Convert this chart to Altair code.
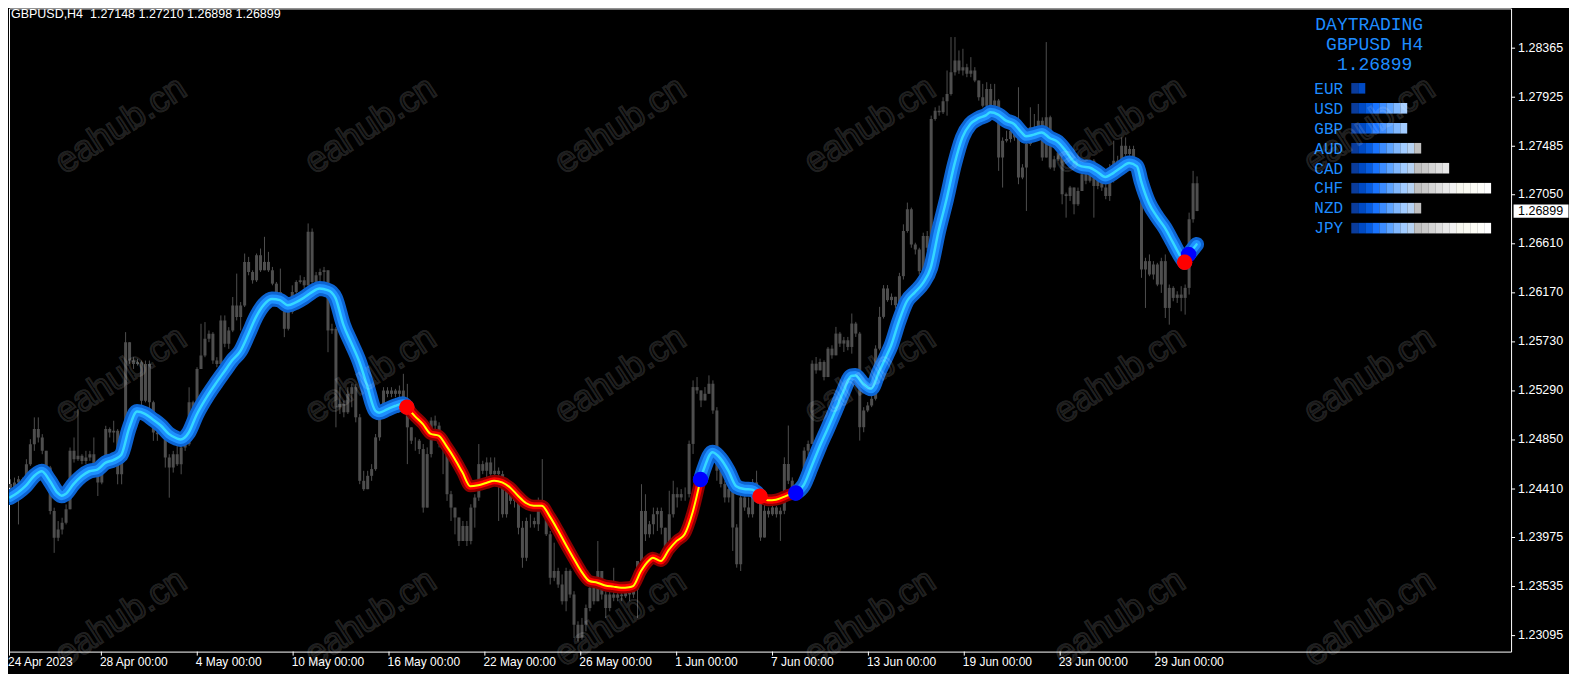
import altair as alt
import numpy as np
import pandas as pd

SYMBOL = "GBPUSD"
PERIOD = "H4"

# ---------------- candle data (prices in points, 1e-5) ----------------
OPEN0_PTS = 124450
CLOSE_PTS = [
124418,124463,124493,124448,124628,124808,124943,124868,124748,124598,
124208,123968,124043,124103,124223,124748,124673,124703,124658,124688,
124718,124538,124463,124583,124943,124913,124928,124538,124748,125723,
125558,125528,125543,125198,125528,125183,124913,124898,124928,124688,
124598,124718,124628,124778,124808,125183,125093,125483,125603,125753,
125798,125558,125528,125918,125708,125828,126053,125948,126053,126443,
126353,126278,126503,126368,126443,126368,126248,126173,126098,125843,
125993,126173,126263,126278,126233,126713,126263,126323,126353,126368,
125828,125843,
125139,125169,125094,125259,125319,125049,124479,124404,124524,124584,
124869,125079,125289,125259,125289,125259,125289,125199,124959,124839,
124839,124764,124239,124719,125019,124974,124809,124779,124359,124239,
124149,123939,124074,123939,124239,124329,124629,124569,124644,124539,
124569,124539,124179,124389,124299,124359,124059,123789,124119,124119,
124089,124299,124239,123999,123609,123669,123549,123399,123669,123459,
123189,123069,123189,123339,123519,123399,123669,123459,123339,123459,
123429,123459,123444,123474,123459,123504,123759,124209,123999,124089,
124179,124209,124059,
123880,124180,124360,124330,124360,124360,124810,125320,125290,125200,
125260,125350,125110,124570,124450,124330,124405,124060,123730,124330,
124240,124180,124465,124300,123970,124210,124180,124240,124180,124210,
124630,124480,124390,124420,124480,124750,124810,125530,125470,125545,
125410,125665,125605,125800,125710,125740,125680,125890,125800,124960,
125110,125155,125215,125665,125950,126205,126100,126130,126055,
126315,126720,126915,126600,126555,126360,126675,126570,127725,127800,
127785,127884,127950,128145,128250,128160,128190,128130,128160,128070,
127920,127845,127995,127845,127890,127380,127530,127545,127620,127560,
127200,127290,127500,127650,127620,127710,127380,127740,127290,127365,
127425,127050,127035,127110,126960,127080,127230,127170,127350,127125,
127200,127110,127035,127170,127350,127260,127485,127410,127455,127365,
127290,126375,126450,126330,126420,126240,126450,126030,126210,126120,
126150,126120,126210,126825,127148,126899]
HIGH_PTS = [
124493,124508,124523,124508,124673,124853,125048,125048,124898,124748,
124613,124238,124118,124148,124268,124778,124868,125123,124718,124748,
124748,124868,124568,124613,124973,124958,125018,124943,124778,125813,
125708,125588,125573,125558,125558,125558,125198,124958,124973,124928,
124718,124748,124808,124808,124853,125318,125198,125498,125888,125903,
125828,125813,125588,125963,125963,125858,126128,126338,126083,126518,
126488,126368,126518,126563,126668,126533,126398,126263,126383,126113,
126023,126233,126278,126323,126308,126788,126743,126353,126383,126398,
126368,125888,
125859,125319,125199,125319,125349,125349,125079,124569,124569,124629,
124899,125109,125319,125319,125319,125304,125334,125439,125349,124899,
124869,124854,124809,124779,125049,125064,125004,124839,124779,124389,
124239,124149,124119,124119,124269,124359,124809,124659,124689,124689,
124689,124599,124569,124419,124389,124404,124389,124119,124149,124179,
124149,124329,124674,124269,124029,123924,123699,123639,123699,123684,
123489,123219,123249,123369,123549,123579,123939,123669,123489,123489,
123699,123519,123519,123519,123504,123534,123759,124449,124359,124119,
124239,124239,124239,
124000,124390,124480,124420,124405,124420,124840,125380,125410,125290,
125320,125425,125380,125140,124630,124480,124435,124390,124090,124360,
124360,124330,124495,124570,124330,124270,124240,124270,124255,124240,
124690,124975,124510,124450,124510,124780,124840,125560,125590,125575,
125560,125680,125695,125860,125815,125770,125770,125980,125905,125815,
125140,125185,125245,125695,126040,126235,126235,126160,126115,
126345,126780,126975,126930,126615,126570,126705,126720,127755,127830,
127845,127920,128160,128460,128460,128340,128355,128220,128280,128190,
128070,128040,128055,128040,128040,127905,127560,127620,127650,127635,
128010,127320,127530,127830,127770,127860,127740,128415,127755,127395,
127530,127440,127065,127125,127110,127110,127260,127275,127365,127365,
127230,127215,127140,127320,127530,127395,127560,127560,127485,127485,
127365,127320,126480,126510,126450,126435,126480,126510,126240,126225,
126180,126225,126240,126885,127260,127210]
LOW_PTS = [
124358,124388,124088,124403,124433,124613,124748,124823,124718,124538,
124178,123833,123938,123998,124088,124223,124643,124658,124628,124628,
124658,124508,124343,124448,124568,124868,124823,124448,124448,124718,
125528,125483,125513,125138,125183,125018,124838,124838,124883,124598,
124328,124553,124613,124538,124748,124793,125048,125078,125483,125588,
125723,125528,125498,125528,125678,125663,125813,125918,125828,126038,
126323,126248,126263,126353,126368,126353,126233,126068,126068,125768,
125828,125978,126158,126248,126203,126218,126218,126263,126263,126248,
125633,125798,
124959,125079,125049,125079,125139,125004,124449,124389,124464,124479,
124569,124839,125049,125229,125229,125229,125229,125139,124629,124809,
124749,124719,124194,124239,124689,124929,124779,124539,124299,124119,
123999,123894,123999,123894,123909,124059,124299,124539,124509,124479,
124479,124119,124149,124149,124269,124239,123999,123699,123759,124059,
124059,124029,124179,123984,123549,123579,123519,123369,123309,123429,
123069,123039,123054,123129,123309,123369,123399,123414,123249,123309,
123399,123399,123399,123429,123399,123429,123249,123759,123939,123969,
123999,124029,123999,
123760,123880,124150,124240,124300,124300,124330,124720,125260,125140,
125200,125260,125080,124480,124420,124285,124285,123850,123700,123670,
124210,124150,124150,124285,123940,124000,124150,124165,124150,123940,
124180,124450,124345,124375,124405,124465,124705,124810,125440,125500,
125380,125425,125575,125605,125680,125635,125650,125620,125770,124840,
124915,125095,125140,125200,125650,125935,126085,126055,126025,
126000,126285,126705,126570,126510,126330,126345,126540,126555,127710,
127755,127770,127755,127935,128115,128130,128115,128100,128100,128055,
127890,127830,127830,127830,127815,127260,127110,127515,127515,127530,
127140,127185,126900,127485,127590,127620,127350,127380,127275,127260,
127350,126960,126840,126990,126870,126945,127080,127140,127155,126840,
127095,127080,127005,126990,127155,127245,127245,127395,127395,127350,
127275,126300,126030,126315,126285,126225,126165,125940,125880,126090,
126075,126000,125970,126150,126795,126898]

# ---------------- moving average ----------------
MA_BAR = [0,2,4,6,8,10,12,13,14,16,18,20,22,24,26,28,30,32,34,36,38,40,42,43,45,47,50,52,54,56,58,60,
          62,64,66,68,70,72,74,76,78,80,81,82,84,86,88,90,92,93,95,97,99,100,102,104,106,108,110,112,114,
          116,118,120,122,124,126,128,130,132,134,136,138,140,142,144,146,148,150,152,154,156,157,159,161,
          162,164,166,168,170,172,174,175,177,179,181,183,185,187,189,191,193,195,196,198,200,202,204,206,
          208,210,212,213,215,217,219,221,222,224,226,228,230,232,234,236,238,240,242,244,246,247,249,251,
          253,255,256,258,260,262,264,266,268,270,272,274,276,278,280,282,284,285,287,289,291,293,295,296,
          297,299]
MA_PTS = [124330,124375,124435,124520,124565,124480,124370,124345,124360,124450,124520,124565,124580,
          124640,124665,124710,124950,125100,125080,125030,124975,124900,124860,124850,124910,125070,
          125255,125360,125460,125560,125640,125790,125950,126060,126110,126100,126055,126080,126120,
          126170,126205,126190,126170,126120,125880,125715,125550,125330,125110,125090,125120,125150,
          125170,125140,125060,124990,124900,124885,124790,124680,124555,124430,124440,124460,124480,
          124465,124420,124345,124280,124255,124255,124160,124040,123910,123785,123665,123580,123565,
          123540,123530,123520,123525,123535,123670,123765,123790,123760,123860,123940,124000,124195,
          124490,124600,124735,124680,124570,124430,124405,124400,124340,124305,124310,124335,124350,
          124370,124440,124610,124785,124945,125110,125280,125420,125425,125350,125305,125460,125610,
          125690,125910,126090,126170,126250,126390,126720,127005,127320,127560,127680,127730,127760,
          127785,127765,127710,127680,127600,127570,127585,127605,127555,127520,127440,127345,127300,
          127290,127250,127205,127240,127290,127330,127300,127170,126970,126850,126750,126620,126490,
          126440,126510,126600]
SIGNAL_BARS = [100, 174, 189, 198, 296, 297]
SIGNAL_TYPES = ["down", "up", "down", "up", "down", "up"]

# ---------------- axes ----------------
TIME_TICK_BARS = [0, 24, 48, 72, 96, 120, 144, 168, 192, 216, 240, 264, 288]
TIME_TICK_LABELS = ["24 Apr 2023", "28 Apr 00:00", "4 May 00:00", "10 May 00:00", "16 May 00:00",
                    "22 May 00:00", "26 May 00:00", "1 Jun 00:00", "7 Jun 00:00", "13 Jun 00:00",
                    "19 Jun 00:00", "23 Jun 00:00", "29 Jun 00:00"]
Y_TICKS = [1.23095, 1.23535, 1.23975, 1.24410, 1.24850, 1.25290, 1.25730, 1.26170,
           1.26610, 1.27050, 1.27485, 1.27925, 1.28365]

# ---------------- currency strength panel ----------------
CURRENCIES = ["EUR", "USD", "GBP", "AUD", "CAD", "CHF", "NZD", "JPY"]
STRENGTH_BLOCKS = [2, 8, 8, 10, 14, 20, 10, 20]

# ---------------- styles ----------------
W, H = 1504, 644
X_DOM = [1, 377]
Y_DOM = [1.22947, 1.28717]
CANDLE = "#4e4e4e"
UP_STYLE = [(15, "#0d64d2"), (9, "#1e90ff"), (2.5, "#35d8ff")]
DN_STYLE = [(12, "#8e0000"), (7, "#ff0000"), (2, "#ffff00")]
PANEL_BLUE = "#1e8cff"
BLOCK_COLORS = ["#0a3c9c", "#004ac4", "#065ce0", "#1a74ff", "#3c8cff", "#5ea4ff", "#80b8ff", "#a2ccff",
                "#b6d2f2", "#c0c0c0", "#c9c9c9", "#d4d4d4", "#dedede", "#e8e8e8", "#f1f1f1",
                "#f7f7ef", "#fafaf2", "#fcfcf6", "#fefefa", "#ffffff"]
AXFONT = "Liberation Sans"
MONO = "Liberation Mono"

# ---------------- build tables ----------------
close = np.array(CLOSE_PTS) / 1e5
open_ = np.concatenate([[OPEN0_PTS / 1e5], close[:-1]])
high = np.maximum.reduce([np.array(HIGH_PTS) / 1e5, open_, close])
low = np.minimum.reduce([np.array(LOW_PTS) / 1e5, open_, close])
candles = pd.DataFrame({"bar": np.arange(len(close)), "open": open_, "close": close,
                        "high": high, "low": low})

bounds = [MA_BAR[0]] + SIGNAL_BARS + [MA_BAR[-1]]
trends = ["up" if SIGNAL_TYPES[0] == "down" else "down"] + SIGNAL_TYPES
rows = []
for k in range(len(trends)):
    a, b = bounds[k], bounds[k + 1]
    for bar, v in zip(MA_BAR, MA_PTS):
        if a <= bar <= b:
            rows.append({"bar": bar, "ma": v / 1e5, "seg": k, "trend": trends[k]})
ma_df = pd.DataFrame(rows)
ma_map = dict(zip(MA_BAR, MA_PTS))
sig_df = pd.DataFrame({"bar": SIGNAL_BARS, "ma": [ma_map[b] / 1e5 for b in SIGNAL_BARS],
                       "type": SIGNAL_TYPES})

xs = alt.Scale(domain=X_DOM, nice=False, zero=False)
ys = alt.Scale(domain=Y_DOM, nice=False, zero=False)
X = alt.X("bar:Q", scale=xs, axis=None)

wicks = alt.Chart(candles).mark_rule(color=CANDLE, strokeWidth=1, xOffset=0.5, clip=True).encode(
    x=X, y=alt.Y("low:Q", scale=ys, axis=None), y2="high:Q")
bodies = alt.Chart(candles).mark_bar(color=CANDLE, size=3, xOffset=0.5, clip=True).encode(
    x=X, y=alt.Y("open:Q", scale=ys, axis=None), y2="close:Q")

line_layers = []
for trend, style in (("up", UP_STYLE), ("down", DN_STYLE)):
    sub = ma_df[ma_df.trend == trend]
    for w, c in style:
        line_layers.append(
            alt.Chart(sub).mark_line(strokeWidth=w, color=c, strokeCap="round", strokeJoin="round",
                                     interpolate="monotone", clip=True).encode(
                x=X, y=alt.Y("ma:Q", scale=ys, axis=None), detail="seg:N", order="bar:Q"))

dots_up = alt.Chart(sig_df[sig_df.type == "up"]).mark_circle(size=240, color="#0000ff", opacity=1,
                                                             clip=True).encode(
    x=X, y=alt.Y("ma:Q", scale=ys, axis=None))
dots_dn = alt.Chart(sig_df[sig_df.type == "down"]).mark_circle(size=240, color="#ff0000", opacity=1,
                                                               clip=True).encode(
    x=X, y=alt.Y("ma:Q", scale=ys, axis=None))

# price axis on the right (ticks + labels drawn through the price scale)
ydf = pd.DataFrame({"p": Y_TICKS, "t": [f"{v:.5f}" for v in Y_TICKS]})
yticks = alt.Chart(ydf).mark_rule(color="white", strokeWidth=1, yOffset=0.5).encode(
    x=alt.value(W), x2=alt.value(W + 4), y=alt.Y("p:Q", scale=ys, axis=None))
ylabels = alt.Chart(ydf).mark_text(align="left", baseline="middle", color="white", font=AXFONT,
                                   fontSize=12.5).encode(
    x=alt.value(W + 7), y=alt.Y("p:Q", scale=ys, axis=None), text="t:N")

last_df = pd.DataFrame({"p": [close[-1]], "t": [f"{close[-1]:.5f}"]})
price_box = alt.Chart(last_df).mark_point(shape="M-1,-0.24H1V0.24H-1Z", size=55 ** 2, filled=True,
                                          fill="white", strokeWidth=0, opacity=1).encode(
    x=alt.value(W + 30), y=alt.Y("p:Q", scale=ys, axis=None))
price_txt = alt.Chart(last_df).mark_text(align="left", baseline="middle", color="black", font=AXFONT,
                                         fontSize=12.5).encode(
    x=alt.value(W + 7), y=alt.Y("p:Q", scale=ys, axis=None), text="t:N")

main = alt.layer(wicks, bodies, *line_layers, dots_up, dots_dn, yticks, ylabels, price_box, price_txt)

# time axis (text + small ticks)
tdf = pd.DataFrame({"bar": TIME_TICK_BARS, "label": TIME_TICK_LABELS})
xclamp = alt.Scale(domain=X_DOM, nice=False, zero=False, clamp=True)
tlabels = alt.Chart(tdf).mark_text(align="left", baseline="middle", color="white", font=AXFONT,
                                   fontSize=12, dx=-1).encode(
    x=alt.X("bar:Q", scale=xclamp, axis=None), y=alt.value(H + 10), text="label:N")
tticks = alt.Chart(tdf).mark_rule(color="white", strokeWidth=1, xOffset=0.5).encode(
    x=alt.X("bar:Q", scale=xclamp, axis=None), y=alt.value(H), y2=alt.value(H + 4))
timeaxis = alt.layer(tticks, tlabels)

# header
hdr = (f"{SYMBOL},{PERIOD}\u00a0 {open_[-1]:.5f} {high[-1]:.5f} {low[-1]:.5f} {close[-1]:.5f}")
header = alt.Chart(pd.DataFrame({"t": [hdr]})).mark_text(
    align="left", baseline="alphabetic", color="white", font=AXFONT, fontSize=12.5).encode(
    x=alt.value(2), y=alt.value(10), text="t:N")

# strength panel
brows = []
for cur, n in zip(CURRENCIES, STRENGTH_BLOCKS):
    for j in range(n):
        brows.append({"cur": cur, "j": j, "j1": j + 1})
bdf = pd.DataFrame(brows)
px_scale = alt.Scale(domain=[0, 20], range=[1344, 1484], nice=False, zero=False)
py_scale = alt.Scale(domain=CURRENCIES, range=[74.7, 225.3], paddingInner=0.47, paddingOuter=0)
blocks = alt.Chart(bdf).mark_rect(strokeWidth=0).encode(
    x=alt.X("j:Q", scale=px_scale, axis=None), x2="j1:Q",
    y=alt.Y("cur:N", scale=py_scale, axis=None),
    color=alt.Color("j:N", scale=alt.Scale(domain=list(range(20)), range=BLOCK_COLORS), legend=None))
cur_txt = alt.Chart(pd.DataFrame({"cur": CURRENCIES})).mark_text(
    align="left", baseline="alphabetic", dy=5.3, color=PANEL_BLUE, font=MONO, fontSize=16).encode(
    x=alt.value(1307), y=alt.Y("cur:N", scale=py_scale, axis=None), text="cur:N")
titles = []
for txt, xx, yy in (("DAYTRADING", 1308, 21.3), (f"{SYMBOL} {PERIOD}", 1318.8, 41.3),
                    (f"{close[-1]:.5f}", 1329.6, 61.3)):
    titles.append(alt.Chart(pd.DataFrame({"t": [txt]})).mark_text(
        align="left", baseline="alphabetic", color=PANEL_BLUE, font=MONO, fontSize=18).encode(
        x=alt.value(xx), y=alt.value(yy), text="t:N"))
panel = alt.layer(blocks, cur_txt, *titles)

# watermarks
wm = pd.DataFrame([{"px": 112 + 250 * c, "py": yy, "t": "eahub.cn"}
                   for yy in (117, 367, 610) for c in range(6)])
watermark = alt.Chart(wm).mark_text(angle=327, font=AXFONT, fontSize=36, fillOpacity=0,
                                    stroke="#ffffff", strokeOpacity=0.15, strokeWidth=2,
                                    align="center", baseline="middle").encode(
    x=alt.X("px:Q", scale=None), y=alt.Y("py:Q", scale=None), text="t:N")

chart = alt.layer(main, timeaxis, header, panel, watermark).resolve_scale(
    x="independent", y="independent").properties(
    width=W, height=H, background="#000000", padding=0).configure_view(
    stroke="#ffffff", strokeWidth=1, fill="#000000")

chart.save("out.html", embed_options={"renderer": "svg", "actions": False})
